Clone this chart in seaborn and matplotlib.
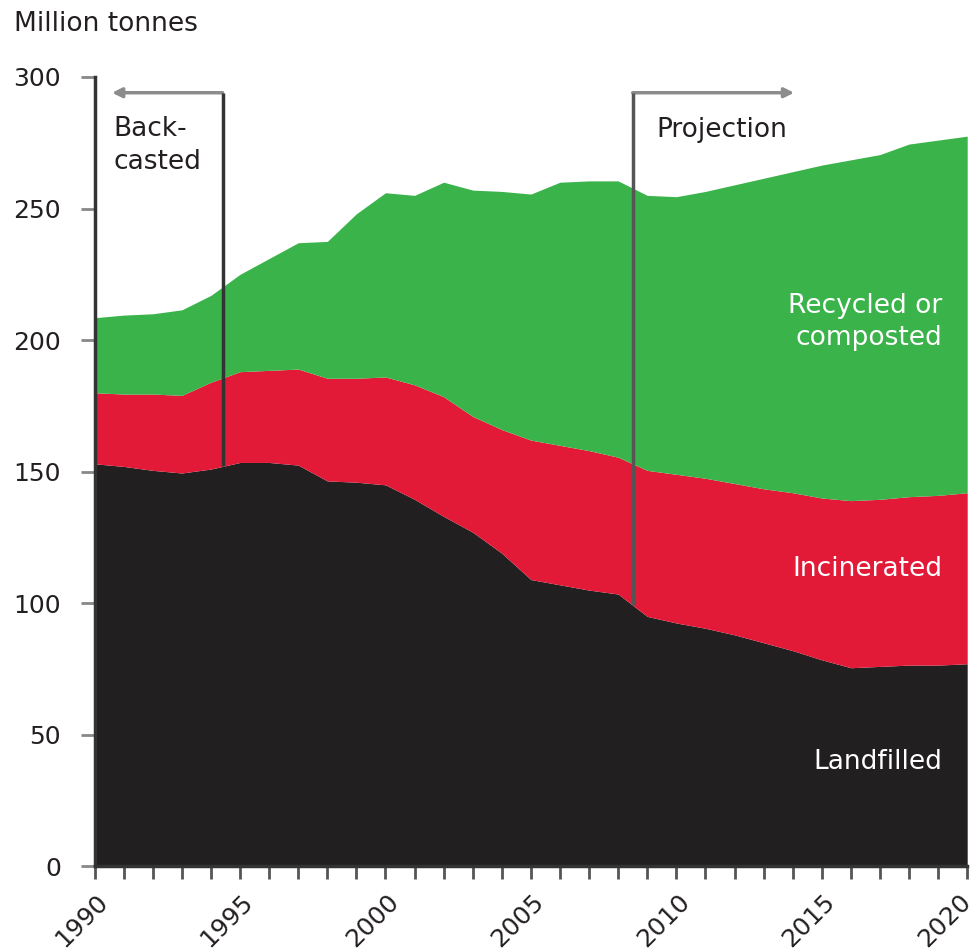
import matplotlib
matplotlib.use("Agg")
import matplotlib.pyplot as plt
import matplotlib.transforms as mtransforms
import numpy as np
import pandas as pd
import seaborn as sns

# values (million tonnes)
years = list(range(1990, 2021))
landfilled = [153, 152, 150.5, 149.5, 151, 153.5, 153.5, 152.5, 146.5, 146,
              145, 139.5, 133, 127, 119, 109, 107, 105, 103.5, 95,
              92.5, 90.5, 88, 85, 82, 78.5, 75.5, 76, 76.5, 76.5, 77]
incinerated = [27, 27.5, 29, 29.5, 33, 34.5, 35, 36.5, 39, 39.5,
               41, 43.5, 45.5, 44, 47, 53, 53, 53, 52, 55.5,
               56.5, 57, 57.5, 58.5, 60, 61.5, 63.5, 63.5, 64, 64.5, 65]
recycled = [28.5, 30, 30.5, 32.5, 33, 37, 42.5, 48, 52, 62.5,
            70, 72, 81.5, 86, 90.5, 93.5, 100, 102.5, 105, 104.5,
            105.5, 109, 113.5, 118, 122, 126.5, 129.5, 131, 134, 135, 135.5]

series_names = ["Landfilled", "Incinerated", "Recycled or\ncomposted"]
colors = ["#221f20", "#e21a37", "#3ab34a"]
y_ticks = [0, 50, 100, 150, 200, 250, 300]
x_ticks = [1990, 1995, 2000, 2005, 2010, 2015, 2020]

# annotation positions (years / million tonnes)
backcast_end = 1994.4
projection_start = 2008.5

df = pd.DataFrame({"year": years, "Landfilled": landfilled,
                   "Incinerated": incinerated, "Recycled": recycled})

sns.set_theme(style="ticks")
plt.rcParams["font.family"] = ["DejaVu Sans"]
txt = "#231f20"

fig = plt.figure(figsize=(9.75, 9.5), dpi=100)
ax = fig.add_axes([0.097, 0.088, 0.895, 0.831])

ax.stackplot(df["year"], df["Landfilled"], df["Incinerated"], df["Recycled"],
             colors=colors, linewidth=0)

ax.set_xlim(1990, 2020)
ax.set_ylim(0, 300)
ax.set_yticks(y_ticks)
ax.set_xticks(x_ticks)
ax.set_xticks(years, minor=True)
ax.tick_params(axis="y", length=10, width=2, color="#888888", labelsize=18,
               labelcolor=txt, pad=14)
ax.tick_params(axis="x", which="both", length=9, width=2, color="#555555",
               labelsize=18, labelcolor=txt, pad=4)
# x labels sit a bit left of and below their ticks in the reference
for i, lab in enumerate(ax.get_xticklabels()):
    lab.set_rotation(45)
    lab.set_ha("center")
    dx = -22 if i == len(x_ticks) - 1 else -13
    lab.set_transform(lab.get_transform() +
                      mtransforms.ScaledTranslation(dx / 100, -5 / 100, fig.dpi_scale_trans))

sns.despine(ax=ax)
for side in ["left", "bottom"]:
    ax.spines[side].set_linewidth(2.5)
    ax.spines[side].set_color("#333333")

fig.text(0.014, 0.975, "Million tonnes", fontsize=19, color=txt,
         ha="left", va="center")

# back-casted bracket
lf_back = np.interp(backcast_end, years, landfilled)
ax.plot([backcast_end, backcast_end], [lf_back, 294], color="#333333", lw=2.5,
        solid_capstyle="butt", zorder=5)
ax.annotate("", xy=(1990.6, 294), xytext=(backcast_end, 294),
            arrowprops=dict(arrowstyle="-|>", color="#8c8c8c", lw=2.5,
                            mutation_scale=14, shrinkA=0, shrinkB=0))
ax.text(1990.65, 285, "Back-\ncasted", fontsize=19, color=txt, ha="left",
        va="top", linespacing=1.35)

# projection bracket
lf_proj = np.interp(projection_start, years, landfilled)
ax.plot([projection_start, projection_start], [lf_proj, 294], color="#555555",
        lw=2.5, solid_capstyle="butt", zorder=5)
ax.annotate("", xy=(2014.05, 294), xytext=(projection_start, 294),
            arrowprops=dict(arrowstyle="-|>", color="#8c8c8c", lw=2.5,
                            mutation_scale=14, shrinkA=0, shrinkB=0))
ax.text(2009.3, 280, "Projection", fontsize=19, color=txt, ha="left",
        va="center")

# series labels inside the areas
label_y = [39.5, 113, 207]
for name, yv in zip(series_names, label_y):
    ax.text(2019.15, yv, name, fontsize=19, color="white", ha="right",
            va="center", linespacing=1.3)

fig.savefig("out.png", dpi=100)
